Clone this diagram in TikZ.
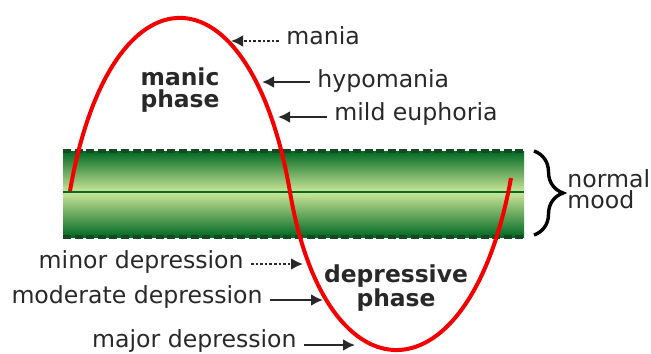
\documentclass[tikz,border=0pt]{standalone}
\usepackage{fontspec}
\setmainfont{DejaVu Sans}
\usetikzlibrary{arrows.meta,decorations.pathreplacing}
\definecolor{banddark}{RGB}{0,105,35}
\definecolor{bandmid}{RGB}{45,150,60}
\definecolor{bandlight}{RGB}{200,228,150}
\definecolor{bandedge}{RGB}{25,70,35}
\definecolor{moodred}{RGB}{245,0,0}
\definecolor{inkgray}{RGB}{40,40,40}

\begin{document}
\begin{tikzpicture}[x=0.5pt, y=-0.5pt,
  lbl/.style={font=\fontsize{11.8}{11.2}\selectfont, text=inkgray, inner ysep=0pt, inner xsep=3.5pt},
  phase/.style={lbl, font=\fontsize{11.7}{11.2}\selectfont\bfseries, align=center},
  pointer/.style={-{Latex[length=6pt,width=6pt]}, line width=1.3pt, inkgray},
  edgeline/.style={bandedge, line width=1.6pt, dash pattern=on 4pt off 1.8pt}]
\useasboundingbox (0,0) rectangle (651,353);
% normal mood band
\shade[top color=banddark, middle color=bandmid, bottom color=bandlight] (63,151) rectangle (524,191);
\shade[top color=bandlight, middle color=bandmid, bottom color=banddark] (63,193) rectangle (524,237);
\draw[banddark, line width=1.3pt] (63,192) -- (524,192);
\draw[edgeline] (63,151) -- (524,151);
\draw[edgeline] (63,237) -- (524,237);
% mood swing
\draw[moodred, line width=2pt] (70,191) .. controls (110,-40) and (250,-40) .. (290,192)
  .. controls (326,405) and (470,405) .. (511,178);
% levels
\foreach \nm/\x/\y/\tx/\ty/\dsh/\txt in {mania/279/45/231/41/densely dotted/mania,
    hypo/310/87/262/82/solid/hypomania, euph/327/120/278/117/solid/mild euphoria}{%
  \node[lbl, anchor=base west] (\nm) at (\x,\y) {\txt};
  \coordinate (\nm tip) at (\tx,\ty);
  \draw[pointer,\dsh] (\nm.west |- \nm tip) -- (\nm tip);}
\foreach \nm/\x/\y/\tx/\ty/\dsh/\txt in {minor/251/268/303/264/densely dotted/minor depression,
    moderate/270/303/323/300/solid/moderate depression, major/304/347/355/345/solid/major depression}{%
  \node[lbl, anchor=base east] (\nm) at (\x,\y) {\txt};
  \coordinate (\nm tip) at (\tx,\ty);
  \draw[pointer,\dsh] (\nm.east |- \nm tip) -- (\nm tip);}
\node[phase] (manic) at (180,90) {manic\\phase};
\node[phase] (depressive) at (396,288) {depressive\\phase};
% brace
\coordinate (bracetop) at (534,151);
\coordinate (bracebot) at (534,235);
\draw[decorate, decoration={brace, amplitude=14.5pt}, line width=1.7pt, black] (bracetop) -- (bracebot);
\node[lbl, align=left, anchor=west, inner xsep=0pt, font=\fontsize{11.8}{10.5}\selectfont] (mood) at (567,189) {normal\\mood};
\end{tikzpicture}
\end{document}
